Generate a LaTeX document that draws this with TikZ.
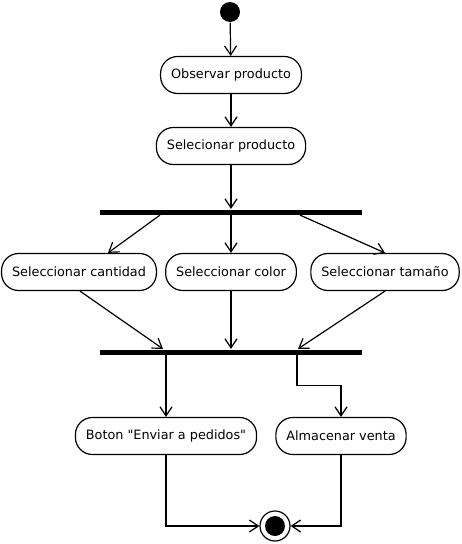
\documentclass[tikz,border=0pt]{standalone}
\usepackage{fontspec}
\setmainfont{DejaVu Sans}[Ligatures=TeXOff]
\usepackage{tikz}
\usetikzlibrary{calc}
\usetikzlibrary{arrows.meta}
\tikzstyle{actnode} = [draw, rectangle, rounded corners=17pt, minimum height=37pt, inner xsep=10.5pt, font=\fontsize{12.8}{14}\selectfont]
\tikzstyle{barnode} = [fill, rectangle, minimum width=262pt, minimum height=5pt, inner sep=0pt]
\tikzstyle{startnode} = [fill, circle, minimum size=20pt, inner sep=0pt]
\tikzstyle{endnode} = [draw, circle, minimum size=30pt, inner sep=0pt, path picture={\fill (path picture bounding box.center) circle (10pt);}]

\begin{document}
\begin{tikzpicture}[x=1pt, y=-1pt, line width=1.2pt, >={Straight Barb[length=9pt,width=12pt]}]
\useasboundingbox (0,0) rectangle (461,544);
\node[startnode] (start) at (230,12) {};
\node[actnode] (obs) at ($(start)+(1,63)$) {Observar producto};
\node[actnode] (sel) at ($(obs)+(0,71)$) {Selecionar producto};
\node[barnode] (fork) at ($(sel)+(0,66)$) {};

\node[actnode] (cant) at ($(fork)+(-152,60)$) {Seleccionar cantidad};
\node[actnode] (color) at ($(fork)+(0,60)$) {Seleccionar color};
\node[actnode] (tam) at ($(fork)+(154,60)$) {Seleccionar tamaño};

\node[barnode] (join) at ($(fork)+(0,140)$) {};
\node[actnode] (boton) at ($(join)+(-65,84)$) {Boton "Enviar a pedidos"};
\node[actnode] (alm) at ($(join)+(110,84)$) {Almacenar venta};
\node[endnode] (end) at ($(join)+(44,174)$) {};

\draw[->] (start) -- (obs);
\draw[->] (obs) -- (sel);
\draw[->] (sel) -- (fork);
\draw[->] ($(fork.south)+(-71,0)$) -- ($(cant.north)+(29,0)$);
\draw[->] (fork) -- (color);
\draw[->] ($(fork.south)+(69,0)$) -- (tam.north);
\draw[->] ($(cant.south)+(1,0)$) -- ($(join.north)+(-68,0)$);
\draw[->] (color) -- (join);
\draw[->] (tam.south) -- ($(join.north)+(67,0)$);
\draw[->] ($(join.south)+(-65,0)$) -- (boton);
\draw[->] ($(join.south)+(66,0)$) -- ++(0,30) -| (alm);
\draw[->] (boton) |- (end);
\draw[->] (alm) |- (end);
\end{tikzpicture}
\end{document}
